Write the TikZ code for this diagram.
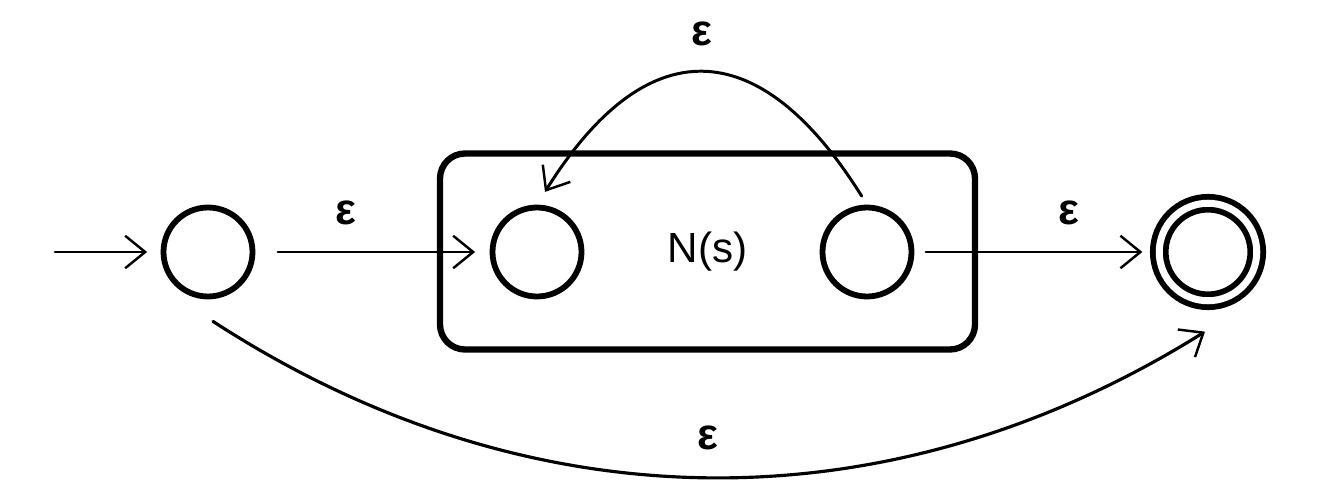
\documentclass[tikz,border=0pt]{standalone}
\usepackage{fontspec}
\setmainfont{Liberation Sans}
\usetikzlibrary{arrows.meta,calc,positioning}

\begin{document}
\begin{tikzpicture}[
  state/.style={circle,draw,line width=3.3pt,minimum size=1.78cm,inner sep=0pt},
  accept/.style={state,double,double distance=4pt,minimum size=1.95cm},
  arr/.style={-{Straight Barb[length=4mm,width=6.5mm,line width=1.4pt]},line width=1.7pt,line cap=round},
  eps/.style={font=\fontsize{25}{28}\selectfont\bfseries,inner sep=0pt}
]
\useasboundingbox (0,0) rectangle (26.44,10.04);

% box round N(s)
\node[draw,rounded corners=0.5cm,line width=3.6pt,minimum width=10.7cm,minimum height=3.92cm,
  font=\fontsize{24}{28}\selectfont] (ns) at (14.15,5.01) {N(s)};

\node[state] (q0) at (4.16,5) {};
\node[state] (q1) at (10.74,5) {};
\node[state] (q2) at (17.34,5) {};
\node[accept] (q3) at (24.16,5) {};
\coordinate (start) at (1.1,5);

\draw[arr,shorten >=0.27cm] (start) -- (q0);
\draw[arr,shorten <=0.45cm,shorten >=0.29cm] (q0) -- node[eps,pos=0.385,yshift=0.78cm] {ε} (q1);
\draw[arr,shorten <=0.23cm,shorten >=0.28cm] (q2) -- node[eps,pos=0.64,yshift=0.78cm] {ε} (q3);

% loop back over the box
\draw[arr,shorten <=0.2cm,shorten >=0.3cm] (q2.north) to[out=122,in=58,distance=4.1cm]
  node[eps,yshift=0.8cm] {ε} (q1.north);

% bypass under the box
\draw[arr,line width=1.8pt] ($(q0.south)+(0.1,-0.44)$) to[out=-33,in=212,distance=7.5cm]
  node[eps,yshift=0.8cm] {ε} ($(q3.south)+(-0.06,-0.56)$);
\end{tikzpicture}
\end{document}
